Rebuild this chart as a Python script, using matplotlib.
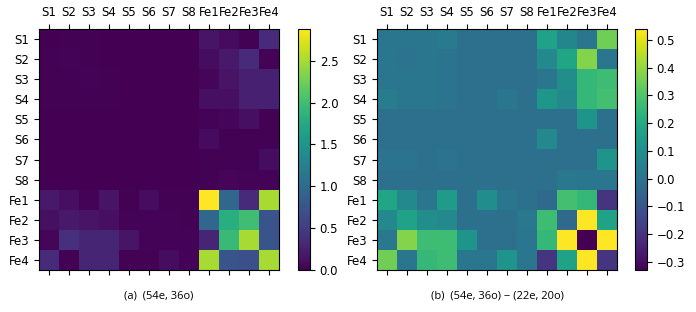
import matplotlib
matplotlib.use('Agg')
import matplotlib.pyplot as plt
import numpy as np

labels = ['S1', 'S2', 'S3', 'S4', 'S5', 'S6', 'S7', 'S8',
          'Fe1', 'Fe2', 'Fe3', 'Fe4']

# (a) (54e, 36o)
mat_a = np.array([
    [0.01, 0.02, 0.02, 0.01, 0.00, 0.00, 0.00, 0.00, 0.15, 0.08, 0.02, 0.35],
    [0.02, 0.03, 0.02, 0.01, 0.00, 0.00, 0.00, 0.00, 0.10, 0.20, 0.35, 0.03],
    [0.02, 0.02, 0.03, 0.02, 0.00, 0.00, 0.00, 0.00, 0.05, 0.15, 0.25, 0.25],
    [0.02, 0.02, 0.02, 0.02, 0.00, 0.00, 0.00, 0.00, 0.12, 0.12, 0.25, 0.25],
    [0.01, 0.01, 0.01, 0.01, 0.00, 0.00, 0.00, 0.00, 0.03, 0.05, 0.12, 0.02],
    [0.01, 0.01, 0.01, 0.01, 0.00, 0.00, 0.00, 0.00, 0.08, 0.02, 0.02, 0.02],
    [0.01, 0.01, 0.01, 0.01, 0.00, 0.00, 0.00, 0.00, 0.02, 0.02, 0.02, 0.10],
    [0.01, 0.01, 0.01, 0.01, 0.00, 0.00, 0.00, 0.00, 0.02, 0.04, 0.03, 0.03],
    [0.20, 0.12, 0.03, 0.15, 0.02, 0.10, 0.02, 0.02, 2.88, 0.95, 0.35, 2.50],
    [0.12, 0.20, 0.15, 0.12, 0.03, 0.03, 0.03, 0.02, 0.95, 1.80, 2.00, 0.75],
    [0.05, 0.40, 0.30, 0.30, 0.15, 0.03, 0.03, 0.03, 0.30, 1.95, 2.50, 0.75],
    [0.35, 0.02, 0.30, 0.30, 0.02, 0.02, 0.10, 0.03, 2.50, 0.75, 0.70, 2.50],
])

# (b) (54e, 36o) - (22e, 20o)
mat_b = np.array([
    [0.01, 0.01, 0.01, 0.03, -0.01, -0.01, -0.01, -0.01, 0.17, 0.07, 0.01, 0.35],
    [0.01, 0.00, 0.01, 0.00, -0.01, -0.01, -0.01, -0.01, 0.08, 0.18, 0.38, 0.01],
    [0.01, 0.01, 0.01, 0.00, -0.01, -0.01, -0.01, -0.01, 0.01, 0.10, 0.25, 0.27],
    [0.04, 0.01, 0.01, 0.00, -0.01, -0.01, 0.01, -0.01, 0.13, 0.08, 0.25, 0.28],
    [-0.01, -0.01, -0.01, -0.01, -0.01, -0.01, -0.01, -0.01, -0.01, -0.01, 0.12, -0.01],
    [-0.01, -0.01, -0.01, -0.01, -0.01, -0.01, -0.01, -0.01, 0.08, -0.01, -0.01, -0.01],
    [0.00, 0.00, -0.01, 0.00, -0.01, -0.01, -0.01, -0.01, -0.01, -0.01, -0.01, 0.12],
    [-0.01, -0.01, -0.01, -0.01, -0.01, -0.01, -0.01, -0.01, -0.01, 0.02, 0.01, 0.01],
    [0.18, 0.08, 0.01, 0.15, -0.01, 0.10, 0.01, -0.01, -0.03, 0.28, 0.25, -0.20],
    [0.08, 0.17, 0.10, 0.08, -0.01, -0.01, -0.01, 0.02, 0.27, -0.03, 0.54, 0.17],
    [0.02, 0.38, 0.27, 0.27, 0.12, -0.01, -0.01, 0.01, 0.25, 0.54, -0.33, 0.54],
    [0.35, 0.01, 0.25, 0.27, 0.01, 0.01, 0.12, 0.01, -0.20, 0.17, 0.54, -0.20],
])

captions = ['(a)  (54e, 36o)', '(b)  (54e, 36o) \u2212 (22e, 20o)']

fig = plt.figure(figsize=(6.96, 3.12), dpi=100)

# axes boxes in pixels: heatmap left, colorbar left
boxes = [(39, 298), (377, 635)]
W, H = 696.0, 312.0
top, bottom = 29, 270

for (hx, cx), mat, cap in zip(boxes, [mat_a, mat_b], captions):
    ax = fig.add_axes([hx / W, 1 - bottom / H, 240 / W, (bottom - top) / H])
    cax = fig.add_axes([cx / W, 1 - bottom / H, 12 / W, (bottom - top) / H])
    im = ax.imshow(mat, cmap='viridis', aspect='auto')
    ax.set_xticks(range(len(labels)))
    ax.set_yticks(range(len(labels)))
    ax.set_yticklabels(labels, fontsize=8.5)
    ax.tick_params(axis='x', top=True, labeltop=True, bottom=True,
                   labelbottom=False)
    ax.set_xticklabels(labels, fontsize=8.5)
    cb = fig.colorbar(im, cax=cax)
    cb.ax.tick_params(labelsize=8.5)
    fig.text((hx + 120) / W, 1 - 296 / H, cap, ha='center', va='center',
             fontsize=8, family='Open Sans')

fig.savefig('out.png', dpi=100)
